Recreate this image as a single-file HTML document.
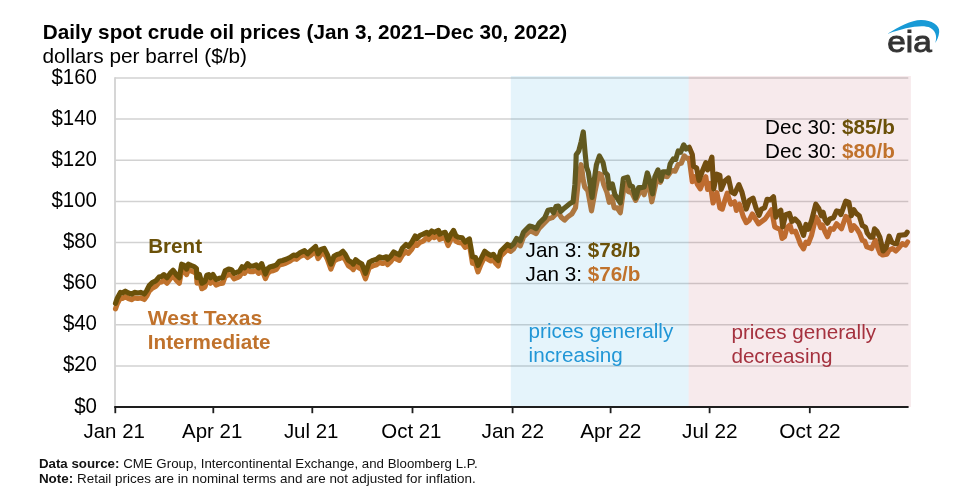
<!DOCTYPE html>
<html lang="en">
<head>
<meta charset="utf-8">
<title>Daily spot crude oil prices</title>
<style>
html,body{margin:0;padding:0;background:#fff;}
body{width:979px;height:493px;overflow:hidden;}
svg{display:block;}
svg text{font-family:"Liberation Sans",Arial,Helvetica,sans-serif;fill:#000;}
.b{font-weight:bold;}
.foot text{fill:#111;}
</style>
</head>
<body>
<svg width="979" height="493" viewBox="0 0 979 493" font-size="21.2">
<rect x="0" y="0" width="979" height="493" fill="#ffffff"/>
<!-- logo -->
<g>
<path d="M888,33.6 C899,26.5 911,20.2 921,20 C931,19.8 940,25 939.2,32 C938.8,36.5 937,40.5 935.2,43 C936.8,38 937,31.8 930.5,27.9 C922,24 905,27.9 888,33.7 Z" fill="#189ad6"/>
<text x="887.2" y="51.6" style="font-size:28.8px;fill:#333;stroke:#333;stroke-width:0.9px" textLength="44.5" lengthAdjust="spacingAndGlyphs">eia</text>
</g>
<!-- grid -->
<g stroke="#d2d2d2" stroke-width="1.5" fill="none">
<line x1="115" y1="365.88" x2="908.3" y2="365.88"/>
<line x1="115" y1="324.75" x2="908.3" y2="324.75"/>
<line x1="115" y1="283.62" x2="908.3" y2="283.62"/>
<line x1="115" y1="242.50" x2="908.3" y2="242.50"/>
<line x1="115" y1="201.38" x2="908.3" y2="201.38"/>
<line x1="115" y1="160.25" x2="908.3" y2="160.25"/>
<line x1="115" y1="119.12" x2="908.3" y2="119.12"/>
<line x1="115" y1="78.00" x2="908.3" y2="78.00"/>
<line x1="115" y1="77.3" x2="115" y2="407" stroke-width="1.8"/>
</g>
<!-- series -->
<g fill="none" stroke-linejoin="round" stroke-linecap="round" stroke-width="5.15">
<path stroke="#c0722c" d="M115.5,308.9 L117.4,303.4 L120.4,297.9 L122.3,298.5 L125.3,296.7 L128.4,298.5 L131.5,299.7 L134.5,297.9 L137.6,298.5 L140.6,297.9 L144.3,299.5 L146.8,296.0 L149.2,291.1 L152.3,288.1 L156.0,286.2 L159.0,282.6 L161.5,282.0 L163.9,280.1 L167.0,283.2 L170.1,278.9 L173.1,275.8 L176.2,280.1 L179.3,283.2 L181.7,269.7 L184.2,270.9 L186.6,274.6 L188.4,269.7 L190.9,270.9 L194.0,272.1 L196.4,274.0 L197.0,283.2 L199.5,280.1 L201.9,288.7 L205.0,286.9 L206.8,280.7 L208.7,280.1 L210.5,283.2 L213.0,280.1 L216.0,285.0 L219.1,283.8 L222.8,283.2 L225.2,276.4 L228.6,274.6 L231.6,275.2 L234.1,278.9 L237.2,277.7 L239.6,276.5 L242.1,272.2 L244.5,273.4 L247.6,269.1 L250.0,271.6 L253.1,271.6 L256.2,270.3 L258.6,273.4 L261.7,269.1 L265.4,278.6 L267.8,273.1 L270.3,271.3 L273.3,270.7 L276.4,269.4 L279.4,264.9 L282.5,264.2 L286.2,263.0 L289.9,261.2 L293.5,258.7 L296.6,259.3 L300.3,256.3 L304.6,254.4 L307.6,257.5 L311.3,254.9 L315.6,251.3 L318.1,258.6 L321.1,254.3 L324.2,253.1 L327.3,259.2 L330.9,269.0 L334.0,261.1 L337.1,259.2 L339.8,258.5 L342.9,256.8 L345.3,259.8 L348.4,265.9 L351.5,267.8 L353.3,269.6 L355.7,265.3 L358.8,267.8 L361.9,269.6 L365.5,278.8 L369.2,267.8 L372.9,265.9 L376.6,264.7 L379.6,262.3 L382.7,263.5 L386.4,262.3 L387.6,264.7 L390.7,261.7 L393.7,257.4 L396.8,259.2 L399.3,260.4 L402.3,255.2 L406.0,251.5 L408.4,253.4 L411.5,249.7 L415.2,242.9 L417.0,245.4 L420.1,242.3 L423.2,241.1 L426.8,237.6 L428.7,239.4 L431.7,236.3 L434.2,237.6 L438.5,235.7 L439.7,239.4 L442.8,238.2 L445.2,237.6 L448.0,245.5 L451.0,239.4 L453.5,235.7 L455.9,241.2 L458.4,242.5 L462.1,243.1 L465.1,247.4 L467.6,245.5 L469.4,244.3 L472.5,263.3 L475.5,263.9 L478.0,271.9 L481.1,264.1 L484.7,256.8 L487.8,259.2 L490.9,261.0 L493.3,259.8 L495.8,263.5 L498.2,265.9 L500.7,256.3 L503.7,253.2 L507.4,249.5 L510.5,251.4 L513.5,248.9 L516.6,243.4 L520.3,245.8 L523.4,237.3 L525.8,234.8 L529.5,231.1 L532.5,231.7 L536.2,233.6 L539.3,228.1 L548.6,218.8 L552.3,217.6 L555.9,213.9 L558.4,212.7 L561.5,217.6 L564.5,220.1 L567.6,217.0 L571.9,213.9 L575.5,207.8 L578.0,184.5 L579.8,171.6 L581.1,164.7 L582.3,172.3 L582.9,178.4 L584.7,187.0 L587.8,190.6 L591.5,210.9 L595.2,190.6 L598.8,173.5 L601.3,174.7 L603.7,184.5 L606.8,191.9 L609.3,202.3 L611.7,196.8 L614.2,207.8 L617.2,207.8 L620.3,212.7 L624.0,186.7 L625.8,183.0 L628.3,191.6 L631.9,192.8 L635.6,200.4 L639.3,192.8 L641.7,189.4 L644.2,194.7 L647.3,181.8 L649.1,185.5 L651.8,201.8 L654.9,187.7 L657.4,176.7 L660.4,182.2 L662.9,175.4 L667.2,176.7 L671.5,170.5 L675.1,171.2 L678.2,164.4 L681.3,163.2 L684.3,155.8 L686.8,158.3 L689.2,158.3 L692.3,181.6 L694.7,176.7 L697.2,184.0 L700.3,188.9 L702.7,182.8 L705.8,176.7 L707.6,189.5 L710.1,183.4 L713.1,203.0 L716.8,192.6 L719.9,207.9 L722.3,209.1 L724.8,200.5 L727.2,193.2 L730.9,204.2 L734.6,201.8 L736.4,210.4 L739.5,204.2 L743.2,216.5 L746.2,222.6 L749.3,220.2 L752.3,214.0 L755.4,218.9 L758.5,223.8 L765.2,218.9 L771.6,209.7 L774.7,226.9 L777.2,228.1 L780.2,229.3 L782.1,238.5 L784.5,236.7 L787.0,227.5 L790.0,225.0 L791.9,231.8 L795.5,231.2 L798.6,239.1 L800.4,244.0 L803.5,248.9 L806.0,242.2 L808.4,243.4 L811.5,235.4 L815.8,217.1 L818.2,220.7 L820.7,227.5 L822.5,225.0 L825.0,231.8 L827.4,236.7 L830.5,228.7 L833.5,229.3 L836.6,223.8 L839.1,226.3 L841.5,228.7 L845.8,216.5 L848.3,217.7 L851.3,230.5 L853.8,225.6 L856.8,228.7 L859.8,233.8 L862.3,240.3 L864.7,241.1 L866.8,246.9 L871.7,248.5 L875.3,240.3 L877.8,247.7 L880.2,253.4 L882.7,255.0 L886.8,254.2 L889.2,250.1 L892.5,248.5 L895.8,251.0 L899.0,247.7 L902.3,243.6 L905.6,245.2 L907.6,242.0"/>
<path stroke="#6b5109" d="M115.5,303.4 L117.4,297.9 L120.4,292.4 L122.3,293.0 L125.3,291.2 L128.4,293.0 L131.5,294.2 L134.5,292.4 L137.6,293.0 L140.6,292.4 L144.3,294.0 L146.8,290.5 L149.2,285.6 L152.3,282.6 L156.0,280.7 L159.0,277.1 L161.5,276.5 L163.9,274.6 L167.0,277.7 L170.1,273.4 L173.1,270.3 L176.2,274.6 L179.3,277.7 L181.7,264.2 L184.2,265.4 L186.6,269.1 L188.4,264.2 L190.9,265.4 L194.0,266.6 L196.4,268.5 L197.0,277.7 L199.5,274.6 L201.9,283.2 L205.0,281.4 L206.8,275.2 L208.7,274.6 L210.5,277.7 L213.0,274.6 L216.0,279.5 L219.1,278.3 L222.8,277.7 L225.2,270.9 L228.6,269.1 L231.6,269.7 L234.1,273.4 L237.2,272.2 L239.6,271.0 L242.1,266.7 L244.5,267.9 L247.6,263.6 L250.0,266.1 L253.1,266.1 L256.2,264.8 L258.6,267.9 L261.7,263.6 L265.4,274.0 L267.8,268.5 L270.3,266.7 L273.3,266.1 L276.4,264.8 L279.4,261.2 L282.5,260.5 L286.2,259.3 L289.9,257.5 L293.5,255.0 L296.6,255.6 L300.3,252.6 L304.6,250.7 L307.6,253.8 L311.3,250.1 L315.6,246.5 L318.1,253.8 L321.1,249.5 L324.2,248.3 L327.3,254.4 L330.9,264.2 L334.0,256.3 L337.1,254.4 L339.8,253.7 L342.9,251.3 L345.3,254.3 L348.4,260.4 L351.5,262.3 L353.3,264.1 L355.7,259.8 L358.8,262.3 L361.9,264.1 L365.5,273.3 L369.2,262.3 L372.9,260.4 L376.6,259.2 L379.6,256.8 L382.7,258.0 L386.4,256.8 L387.6,259.2 L390.7,256.2 L393.7,251.9 L396.8,253.7 L399.3,254.9 L402.3,248.2 L406.0,244.5 L408.4,246.4 L411.5,242.7 L415.2,235.9 L417.0,238.4 L420.1,235.3 L423.2,234.1 L426.8,232.3 L428.7,234.1 L431.7,231.0 L434.2,232.3 L438.5,230.4 L439.7,234.1 L442.8,232.9 L445.2,232.3 L448.0,240.2 L451.0,234.1 L453.5,230.4 L455.9,235.9 L458.4,237.2 L462.1,237.8 L465.1,242.1 L467.6,240.2 L469.4,239.0 L472.5,256.8 L475.5,257.4 L478.0,265.4 L481.1,258.6 L484.7,251.3 L487.8,253.7 L490.9,255.5 L493.3,254.3 L495.8,258.0 L498.2,260.4 L500.7,251.3 L503.7,248.2 L507.4,244.5 L510.5,246.4 L513.5,243.9 L516.6,238.4 L520.3,240.8 L523.4,232.3 L525.8,229.8 L529.5,226.1 L532.5,226.7 L536.2,228.6 L539.3,223.1 L544.9,217.6 L548.0,210.3 L551.6,209.6 L553.5,212.7 L555.9,206.6 L558.4,206.0 L560.8,211.5 L563.9,208.4 L567.6,205.4 L570.0,203.5 L573.1,201.7 L574.9,184.5 L575.8,167.4 L576.2,154.7 L578.7,151.1 L581.2,141.6 L583.3,131.9 L585.1,152.9 L586.6,167.4 L588.4,172.3 L592.1,197.4 L594.5,178.4 L596.4,164.9 L599.4,156.0 L603.1,162.7 L605.0,172.3 L607.4,174.7 L609.3,188.2 L612.3,183.9 L614.8,194.3 L617.2,198.0 L620.3,202.9 L623.4,178.4 L627.6,177.2 L630.1,185.7 L632.5,186.4 L635.6,198.0 L638.7,187.6 L641.7,187.6 L644.2,187.0 L647.3,172.9 L649.1,178.4 L652.5,193.8 L654.9,176.7 L658.0,169.9 L661.0,180.4 L662.9,171.8 L665.9,171.8 L668.4,173.0 L670.2,163.8 L673.3,158.9 L675.7,159.5 L678.2,150.9 L680.6,152.2 L683.7,144.8 L686.2,149.1 L689.2,147.3 L692.3,154.6 L693.5,166.3 L696.6,168.1 L699.0,180.4 L702.1,171.8 L705.8,162.6 L707.6,169.9 L711.9,157.1 L713.7,188.9 L716.8,174.2 L719.9,175.4 L721.1,189.5 L724.8,180.9 L728.4,177.9 L731.5,192.0 L734.6,193.8 L738.9,184.6 L741.9,192.0 L746.2,209.1 L749.3,200.5 L753.0,198.1 L756.0,207.9 L759.1,215.3 L761.5,209.1 L764.6,207.9 L767.1,199.3 L770.4,199.9 L773.5,196.8 L775.9,217.1 L778.4,212.2 L780.8,210.3 L782.7,226.9 L785.7,214.6 L789.4,213.4 L791.9,221.4 L794.9,218.9 L798.6,222.6 L801.1,228.7 L803.5,235.4 L806.0,224.4 L808.4,229.3 L811.5,220.7 L815.8,204.2 L818.8,208.5 L821.3,215.8 L823.1,212.2 L825.0,219.5 L827.4,223.2 L829.9,218.9 L833.5,217.7 L836.6,210.9 L839.1,211.5 L840.9,214.6 L845.8,201.1 L848.9,202.4 L851.3,215.8 L853.8,209.7 L856.2,213.4 L859.3,215.8 L862.3,225.6 L865.5,227.3 L867.2,233.0 L870.4,237.1 L872.9,237.1 L874.5,228.9 L877.0,231.3 L879.8,237.1 L883.1,251.0 L886.0,247.7 L889.2,236.2 L891.7,242.0 L894.5,243.6 L896.6,243.6 L899.0,235.4 L902.3,235.0 L905.6,234.6 L907.2,232.2"/>
</g>
<!-- shaded periods -->
<rect x="510.8" y="76" width="177.8" height="331" fill="#1a9be0" fill-opacity="0.115"/>
<rect x="688.6" y="76" width="222.3" height="331" fill="#b5364f" fill-opacity="0.105"/>
<!-- x axis -->
<g stroke="#1e1e1e" stroke-width="2" fill="none">
<line x1="114.2" y1="407" x2="908.6" y2="407"/>
<g stroke-width="1.8">
<line x1="115.3" y1="407" x2="115.3" y2="413.2"/>
<line x1="213.3" y1="407" x2="213.3" y2="413.2"/>
<line x1="312.3" y1="407" x2="312.3" y2="413.2"/>
<line x1="412.5" y1="407" x2="412.5" y2="413.2"/>
<line x1="512.6" y1="407" x2="512.6" y2="413.2"/>
<line x1="610.6" y1="407" x2="610.6" y2="413.2"/>
<line x1="709.6" y1="407" x2="709.6" y2="413.2"/>
<line x1="809.8" y1="407" x2="809.8" y2="413.2"/>
</g>
</g>
<!-- labels -->
<g>
<text class="t b" x="42.8" y="38.8" textLength="524.3" lengthAdjust="spacingAndGlyphs" font-size="20.6">Daily spot crude oil prices (Jan 3, 2021–Dec 30, 2022)</text>
<text class="t" x="42.4" y="62.7" textLength="204.6" lengthAdjust="spacingAndGlyphs" font-size="20.1">dollars per barrel ($/b)</text>
<text class="t" x="97.0" y="412.5" text-anchor="end" textLength="22.8" lengthAdjust="spacingAndGlyphs" font-size="21.2">$0</text>
<text class="t" x="97.0" y="371.4" text-anchor="end" textLength="34.1" lengthAdjust="spacingAndGlyphs" font-size="21.2">$20</text>
<text class="t" x="97.0" y="330.2" text-anchor="end" textLength="34.1" lengthAdjust="spacingAndGlyphs" font-size="21.2">$40</text>
<text class="t" x="97.0" y="289.1" text-anchor="end" textLength="34.1" lengthAdjust="spacingAndGlyphs" font-size="21.2">$60</text>
<text class="t" x="97.0" y="248.0" text-anchor="end" textLength="34.1" lengthAdjust="spacingAndGlyphs" font-size="21.2">$80</text>
<text class="t" x="97.0" y="206.9" text-anchor="end" textLength="45.5" lengthAdjust="spacingAndGlyphs" font-size="21.2">$100</text>
<text class="t" x="97.0" y="165.8" text-anchor="end" textLength="45.5" lengthAdjust="spacingAndGlyphs" font-size="21.2">$120</text>
<text class="t" x="97.0" y="124.6" text-anchor="end" textLength="45.5" lengthAdjust="spacingAndGlyphs" font-size="21.2">$140</text>
<text class="t" x="97.0" y="83.5" text-anchor="end" textLength="45.5" lengthAdjust="spacingAndGlyphs" font-size="21.2">$160</text>
<text class="t" x="114.2" y="437.6" text-anchor="middle" textLength="61.4" lengthAdjust="spacingAndGlyphs" font-size="21.0">Jan 21</text>
<text class="t" x="212.2" y="437.6" text-anchor="middle" textLength="60.3" lengthAdjust="spacingAndGlyphs" font-size="21.0">Apr 21</text>
<text class="t" x="311.2" y="437.6" text-anchor="middle" textLength="54.6" lengthAdjust="spacingAndGlyphs" font-size="21.0">Jul 21</text>
<text class="t" x="411.4" y="437.6" text-anchor="middle" textLength="60.2" lengthAdjust="spacingAndGlyphs" font-size="21.0">Oct 21</text>
<text class="t" x="512.8" y="437.6" text-anchor="middle" textLength="62.5" lengthAdjust="spacingAndGlyphs" font-size="21.0">Jan 22</text>
<text class="t" x="610.8" y="437.6" text-anchor="middle" textLength="61.3" lengthAdjust="spacingAndGlyphs" font-size="21.0">Apr 22</text>
<text class="t" x="709.8" y="437.6" text-anchor="middle" textLength="55.5" lengthAdjust="spacingAndGlyphs" font-size="21.0">Jul 22</text>
<text class="t" x="810.0" y="437.6" text-anchor="middle" textLength="61.3" lengthAdjust="spacingAndGlyphs" font-size="21.0">Oct 22</text>
<text class="t b" x="148.2" y="252.8" style="fill:#6b5109" textLength="53.9" lengthAdjust="spacingAndGlyphs" font-size="20.6">Brent</text>
<text class="t b" x="147.8" y="324.6" style="fill:#c0722c" textLength="114.4" lengthAdjust="spacingAndGlyphs" font-size="20.6">West Texas</text>
<text class="t b" x="147.8" y="348.8" style="fill:#c0722c" textLength="122.8" lengthAdjust="spacingAndGlyphs" font-size="20.6">Intermediate</text>
<text class="t" x="525.6" y="256.6" textLength="114.9" lengthAdjust="spacingAndGlyphs" font-size="21.0">Jan 3: <tspan class="b" style="fill:#6b5109">$78/b</tspan></text>
<text class="t" x="525.6" y="280.8" textLength="114.9" lengthAdjust="spacingAndGlyphs" font-size="21.0">Jan 3: <tspan class="b" style="fill:#c0722c">$76/b</tspan></text>
<text class="t" x="765.0" y="133.8" textLength="129.8" lengthAdjust="spacingAndGlyphs" font-size="21.0">Dec 30: <tspan class="b" style="fill:#6b5109">$85/b</tspan></text>
<text class="t" x="765.0" y="158.0" textLength="129.8" lengthAdjust="spacingAndGlyphs" font-size="21.0">Dec 30: <tspan class="b" style="fill:#c0722c">$80/b</tspan></text>
<text class="t" x="528.6" y="338.2" style="fill:#2196d6" textLength="144.7" lengthAdjust="spacingAndGlyphs" font-size="20.1">prices generally</text>
<text class="t" x="528.6" y="362.3" style="fill:#2196d6" textLength="94.2" lengthAdjust="spacingAndGlyphs" font-size="20.1">increasing</text>
<text class="t" x="731.4" y="338.5" style="fill:#a5323f" textLength="144.7" lengthAdjust="spacingAndGlyphs" font-size="20.1">prices generally</text>
<text class="t" x="731.4" y="362.6" style="fill:#a5323f" textLength="101.1" lengthAdjust="spacingAndGlyphs" font-size="20.1">decreasing</text>
</g>
<!-- footer -->
<g class="foot" font-size="13.6">
<text x="38.9" y="468.4" textLength="438.7" lengthAdjust="spacingAndGlyphs"><tspan class="b">Data source:</tspan> CME Group, Intercontinental Exchange, and Bloomberg L.P.</text>
<text x="38.9" y="483.2" textLength="436.9" lengthAdjust="spacingAndGlyphs"><tspan class="b">Note:</tspan> Retail prices are in nominal terms and are not adjusted for inflation.</text>
</g>
</svg>
</body>
</html>
